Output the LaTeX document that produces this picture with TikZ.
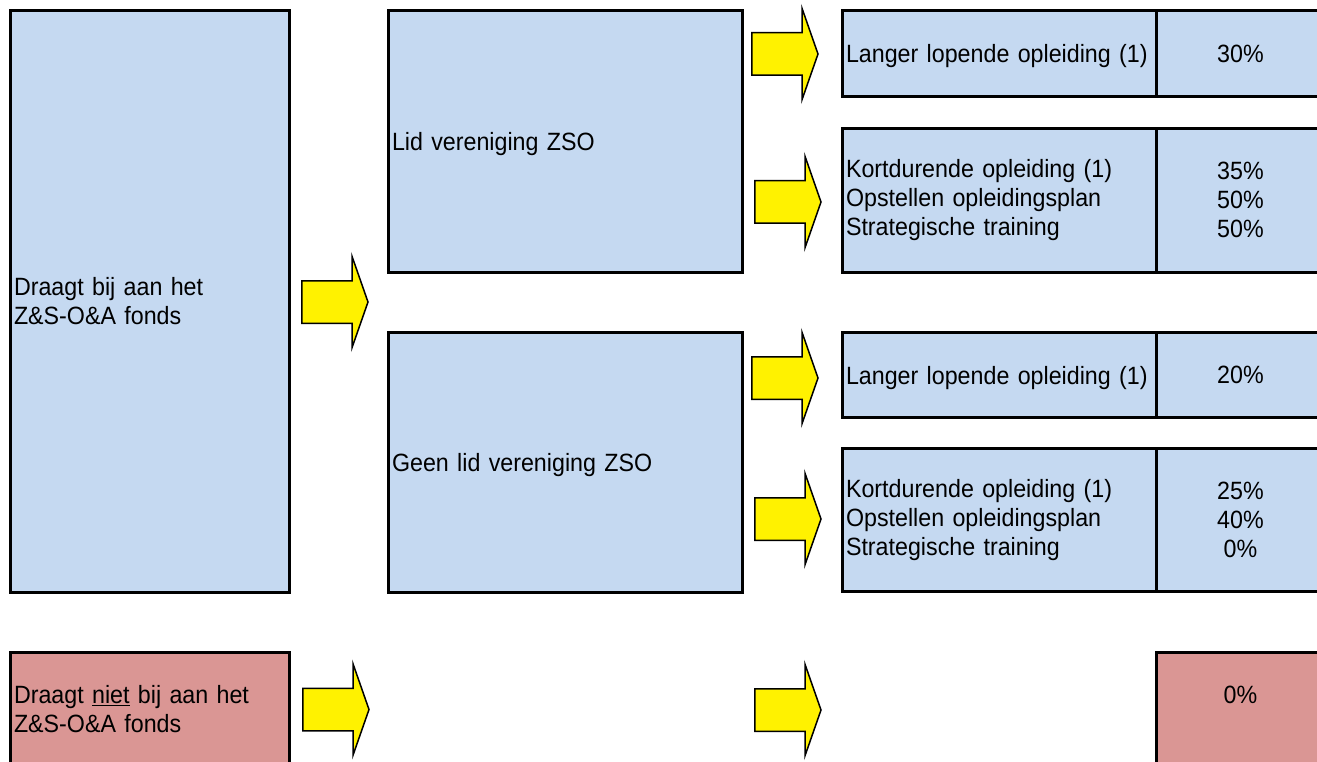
\documentclass[tikz,border=0pt]{standalone}
\usepackage{fontspec}
\setmainfont{Liberation Sans}[FakeStretch=0.93]
\definecolor{lichtblauw}{HTML}{C5D9F1}
\definecolor{rozerood}{HTML}{DA9694}
\tikzset{pijl/.pic={\draw[line width=1.5pt,fill=yellow]
	(0,-21.25) -- (50.25,-21.25) -- (50.25,-45.75) -- (66.25,0) -- (50.25,45.75)
	-- (50.25,21.25) -- (0,21.25) -- cycle;}}
\begin{document}
\begin{tikzpicture}[x=1pt,y=-1pt,
	every node/.style={font=\fontsize{25}{29}\selectfont,outer sep=0pt},
	vak/.style={rectangle,draw,line width=3pt,anchor=north west,inner sep=3.5pt},
	blauw/.style={vak,fill=lichtblauw},
	rood/.style={vak,fill=rozerood},
	tekst/.style={text width=#1,align=left},
	regel/.style={text depth=0pt},
	procent/.style={minimum width=169pt,text width=162pt,align=center}]
\useasboundingbox (0,0) rectangle (1317,762);
\node[blauw,tekst=271.5pt,minimum width=278.5pt,minimum height=581.5pt] (bij) at (10.5,10.5)
	{Draagt bij aan het\\Z\&S-O\&A fonds};
\node[rood,tekst=271.5pt,minimum width=278.5pt,minimum height=114pt] (nietbij) at (10.5,652)
	{Draagt \underline{niet} bij aan het\\Z\&S-O\&A fonds};
\node[blauw,regel,tekst=346.5pt,minimum width=353.5pt,minimum height=261.5pt] (lid) at (388.5,10.5)
	{Lid vereniging ZSO};
\node[blauw,regel,tekst=346.5pt,minimum width=353.5pt,minimum height=260pt] (geenlid) at (388.5,332)
	{Geen lid vereniging ZSO};
\node[blauw,regel,tekst=306.5pt,minimum width=313.5pt,minimum height=86.5pt] (lang1) at (842.5,10.5)
	{Langer lopende opleiding (1)};
\node[blauw,procent,minimum height=86.5pt] (plang1) at (1156,10.5) {30\%};
\node[blauw,tekst=306.5pt,minimum width=313.5pt,minimum height=143.5pt] (kort1) at (842.5,128.5)
	{Kortdurende opleiding (1)\\Opstellen opleidingsplan\\Strategische training};
\node[blauw,procent,minimum height=143.5pt] (pkort1) at (1156,128.5) {35\%\\50\%\\50\%};
\node[blauw,regel,tekst=306.5pt,minimum width=313.5pt,minimum height=85pt] (lang2) at (842.5,332.5)
	{Langer lopende opleiding (1)};
\node[blauw,procent,minimum height=85pt] (plang2) at (1156,332.5) {20\%};
\node[blauw,tekst=306.5pt,minimum width=313.5pt,minimum height=143pt] (kort2) at (842.5,448.5)
	{Kortdurende opleiding (1)\\Opstellen opleidingsplan\\Strategische training};
\node[blauw,procent,minimum height=143pt] (pkort2) at (1156,448.5) {25\%\\40\%\\0\%};
\node[rood,procent,minimum height=114pt] (pniet) at (1156,652) {0\%\\\phantom{0\%}};
\pic (p1) at (301.75,302) {pijl};
\pic (p2) at (751.75,54) {pijl};
\pic (p3) at (754.75,202) {pijl};
\pic (p4) at (751.75,378) {pijl};
\pic (p5) at (754.75,519) {pijl};
\pic (p6) at (302.75,709.5) {pijl};
\pic (p7) at (754.75,710) {pijl};
\end{tikzpicture}
\end{document}
